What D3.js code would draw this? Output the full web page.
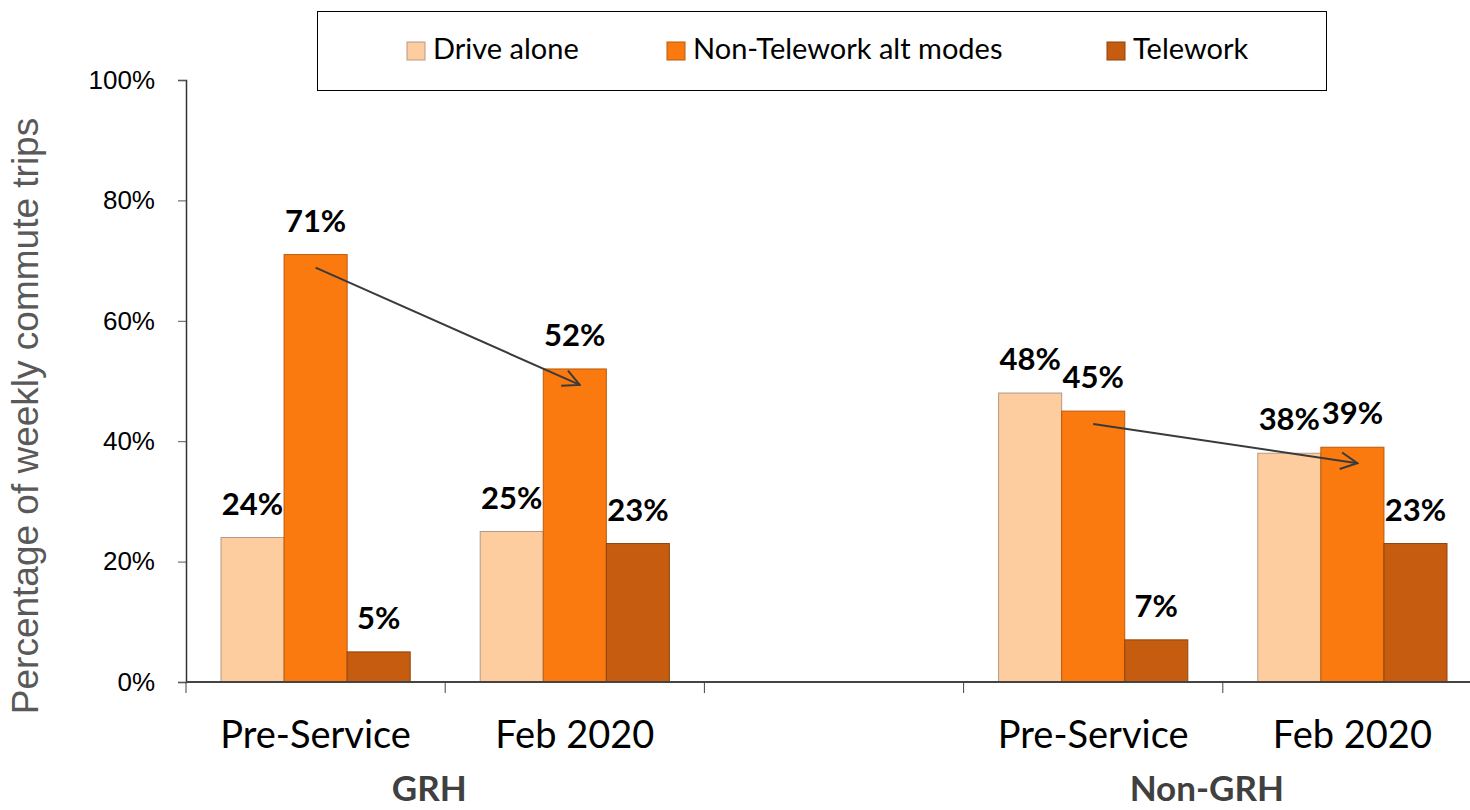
<!DOCTYPE html>
<html>
<head>
<meta charset="utf-8">
<script src="https://cdn.jsdelivr.net/npm/d3@7"></script>
<style>
  body { margin: 0; background: #fff; }
  svg { display: block; }
</style>
</head>
<body>
<svg width="1470" height="810"></svg>
<script>
// chart data
var slots = ["Pre-Service", "Feb 2020", "", "Pre-Service", "Feb 2020"];
var groups = ["GRH", "Non-GRH"];
var groupSlots = [[0, 1], [3, 4]];
var seriesNames = ["Drive alone", "Non-Telework alt modes", "Telework"];
var driveAlone = [24, 25, null, 48, 38];
var nonTelework = [71, 52, null, 45, 39];
var telework = [5, 23, null, 7, 23];
var yTicks = [0, 20, 40, 60, 80, 100];
var arrows = [[0, 1], [3, 4]]; // non-telework drop, from slot to slot

var colors = ["#FDCDA0", "#FB7A10", "#C55C10"];
var strokes = ["#b39a85", "#b85a0c", "#8f430c"];

var svg = d3.select("svg");
var plotLeft = 186, plotRight = 1482, plotTop = 80, plotBottom = 682;

var x = d3.scaleBand().domain(d3.range(slots.length)).range([plotLeft, plotRight]);
var xs = d3.scaleBand().domain(d3.range(3)).range([35, x.bandwidth() - 35]);
var y = d3.scaleLinear().domain([0, 100]).range([plotBottom, plotTop]);

var values = [driveAlone, nonTelework, telework];

// y axis
var yAxis = svg.append("g")
  .attr("transform", "translate(" + plotLeft + ",0)")
  .call(d3.axisLeft(y).tickValues(yTicks).tickSize(8).tickPadding(23)
    .tickFormat(function(d) { return d + "%"; }));
yAxis.select(".domain").attr("stroke", "#333").attr("stroke-width", 1.5);
yAxis.selectAll(".tick line").attr("stroke", "#555");
yAxis.selectAll("text")
  .attr("font-family", "Liberation Sans, Arial, sans-serif")
  .attr("font-size", "26px").attr("fill", "#000");

svg.append("text")
  .attr("transform", "translate(38," + 416 + ") rotate(-90)")
  .attr("text-anchor", "middle")
  .attr("font-family", "Liberation Sans, Arial, sans-serif")
  .attr("font-size", "37px")
  .attr("fill", "#595959")
  .text("Percentage of weekly commute trips");

// bars
slots.forEach(function(s, i) {
  values.forEach(function(arr, k) {
    var v = arr[i];
    if (v == null) return;
    var bx = x(i) + xs(k);
    svg.append("rect")
      .attr("x", bx).attr("y", y(v))
      .attr("width", xs.bandwidth()).attr("height", y(0) - y(v))
      .attr("fill", colors[k]).attr("stroke", strokes[k]).attr("stroke-width", 1);
    svg.append("text")
      .attr("x", bx + xs.bandwidth() / 2).attr("y", y(v) - 23)
      .attr("text-anchor", "middle")
      .attr("font-family", "Lato, sans-serif").attr("font-weight", "bold")
      .attr("font-size", "31px").attr("fill", "#000")
      .text(v + "%");
  });
});

// x axis
svg.append("line")
  .attr("x1", plotLeft).attr("x2", plotRight).attr("y1", plotBottom).attr("y2", plotBottom)
  .attr("stroke", "#444").attr("stroke-width", 2);
slots.forEach(function(s, i) {
  svg.append("line")
    .attr("x1", x(i)).attr("x2", x(i)).attr("y1", plotBottom).attr("y2", plotBottom + 11)
    .attr("stroke", "#444").attr("stroke-width", 1);
});
slots.forEach(function(s, i) {
  svg.append("text")
    .attr("x", x(i) + x.bandwidth() / 2).attr("y", 748)
    .attr("text-anchor", "middle")
    .attr("font-family", "Lato, sans-serif").attr("font-size", "38px")
    .attr("fill", "#000").text(s);
});
groups.forEach(function(g, j) {
  var a = groupSlots[j][0], b = groupSlots[j][1];
  svg.append("text")
    .attr("x", (x(a) + x(b) + x.bandwidth()) / 2 - 16).attr("y", 801)
    .attr("text-anchor", "middle")
    .attr("font-family", "Lato, sans-serif").attr("font-weight", "bold")
    .attr("font-size", "35px").attr("fill", "#404040").text(g);
});

// arrows
svg.append("defs").append("marker")
  .attr("id", "arr").attr("viewBox", "0 0 12 12")
  .attr("refX", 11).attr("refY", 6)
  .attr("markerWidth", 20).attr("markerHeight", 20)
  .attr("markerUnits", "userSpaceOnUse")
  .attr("orient", "auto")
  .append("path").attr("d", "M1,1 L11,6 L1,11")
  .attr("fill", "none").attr("stroke", "#3a3a3a").attr("stroke-width", 1.2);
arrows.forEach(function(p) {
  var cx0 = x(p[0]) + xs(1) + xs.bandwidth() / 2;
  var cx1 = x(p[1]) + xs(1) + xs.bandwidth() / 2;
  svg.append("line")
    .attr("x1", cx0).attr("y1", y(nonTelework[p[0]]) + 13)
    .attr("x2", cx1 + 5).attr("y2", y(nonTelework[p[1]]) + 16)
    .attr("stroke", "#3a3a3a").attr("stroke-width", 2)
    .attr("marker-end", "url(#arr)");
});

// legend
var lg = svg.append("g");
lg.append("rect").attr("x", 317.5).attr("y", 11.5).attr("width", 1009).attr("height", 79)
  .attr("fill", "#fff").attr("stroke", "#000").attr("stroke-width", 1);
var legX = [407, 667, 1107];
seriesNames.forEach(function(n, k) {
  lg.append("rect").attr("x", legX[k]).attr("y", 42).attr("width", 18).attr("height", 18)
    .attr("fill", colors[k]).attr("stroke", strokes[k]).attr("stroke-width", 1);
  lg.append("text").attr("x", legX[k] + 26).attr("y", 59)
    .attr("font-family", "Lato, sans-serif").attr("font-size", "29px")
    .attr("fill", "#000").text(n);
});
</script>
</body>
</html>
